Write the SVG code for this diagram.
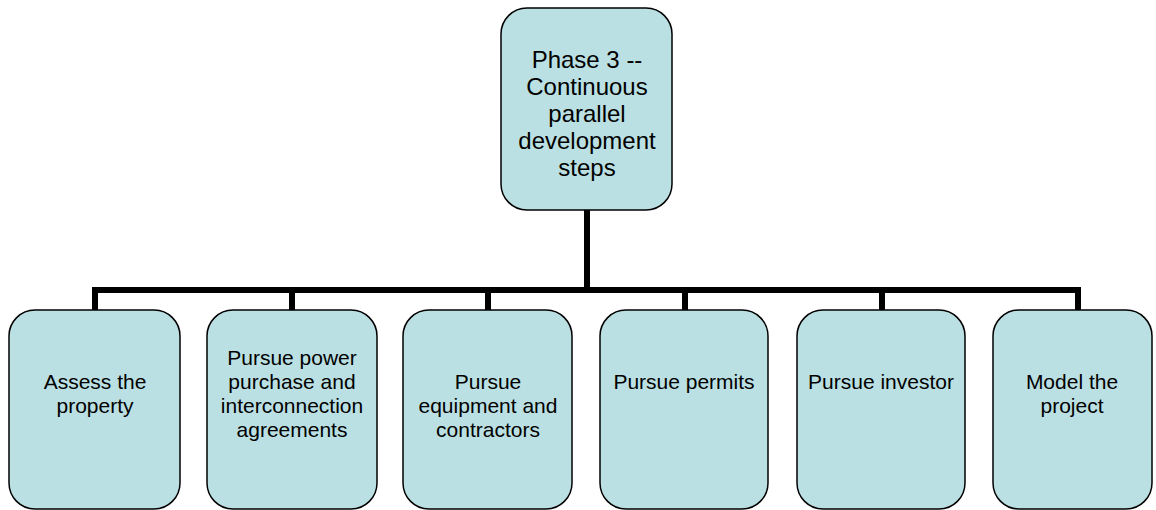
<svg xmlns="http://www.w3.org/2000/svg" width="1156" height="510" viewBox="0 0 1156 510">
<style>
.box{fill:#BBE0E3;stroke:#000;stroke-width:1.5}
.t{font-family:"Liberation Sans",Arial,sans-serif;fill:#000;text-anchor:middle}
.top{font-size:24px}
.sub{font-size:21px}
.conn{stroke:#000;stroke-width:6;fill:none;stroke-linecap:butt}
</style>
<rect width="1156" height="510" fill="#fff"/>
<g id="connectors">
<path class="conn" d="M587 210 V290"/>
<path class="conn" d="M95 290 H1078"/>
<path class="conn" d="M95 287 V310 M292 287 V310 M488 287 V310 M685 287 V310 M882 287 V310 M1078 287 V310"/>
</g>
<g id="node-phase3">
<rect class="box" x="501" y="8" width="171" height="202" rx="26"/>
<text class="t top" x="587" y="68">Phase 3 --</text>
<text class="t top" x="587" y="95">Continuous</text>
<text class="t top" x="587" y="122">parallel</text>
<text class="t top" x="587" y="149">development</text>
<text class="t top" x="587" y="176">steps</text>
</g>
<g id="node-assess">
<rect class="box" x="9" y="310" width="171" height="199" rx="26"/>
<text class="t sub" x="95" y="389">Assess the</text>
<text class="t sub" x="95" y="413">property</text>
</g>
<g id="node-power">
<rect class="box" x="207" y="310" width="170" height="199" rx="26"/>
<text class="t sub" x="292" y="365">Pursue power</text>
<text class="t sub" x="292" y="389">purchase and</text>
<text class="t sub" x="292" y="413">interconnection</text>
<text class="t sub" x="292" y="437">agreements</text>
</g>
<g id="node-equipment">
<rect class="box" x="403" y="310" width="169" height="199" rx="26"/>
<text class="t sub" x="488" y="389">Pursue</text>
<text class="t sub" x="488" y="413">equipment and</text>
<text class="t sub" x="488" y="437">contractors</text>
</g>
<g id="node-permits">
<rect class="box" x="600" y="310" width="168" height="199" rx="26"/>
<text class="t sub" x="684" y="389">Pursue permits</text>
</g>
<g id="node-investor">
<rect class="box" x="797" y="310" width="168" height="199" rx="26"/>
<text class="t sub" x="881" y="389">Pursue investor</text>
</g>
<g id="node-model">
<rect class="box" x="993" y="310" width="159" height="199" rx="26"/>
<text class="t sub" x="1072" y="389">Model the</text>
<text class="t sub" x="1072" y="413">project</text>
</g>
</svg>
